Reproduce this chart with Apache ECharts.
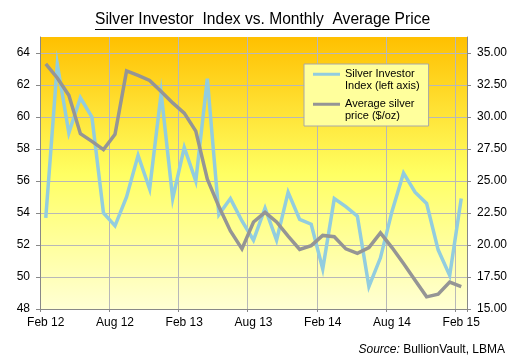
<!DOCTYPE html>
<html><head><meta charset="utf-8">
<script src="https://cdn.jsdelivr.net/npm/echarts@6/dist/echarts.min.js"></script>
<style>html,body{margin:0;padding:0;background:#fff}#c{width:511px;height:359px}</style>
</head><body><div id="c"></div>
<script>
var months = ["Feb 12","Mar 12","Apr 12","May 12","Jun 12","Jul 12","Aug 12","Sep 12","Oct 12","Nov 12","Dec 12","Jan 13",
  "Feb 13","Mar 13","Apr 13","May 13","Jun 13","Jul 13","Aug 13","Sep 13","Oct 13","Nov 13","Dec 13","Jan 14",
  "Feb 14","Mar 14","Apr 14","May 14","Jun 14","Jul 14","Aug 14","Sep 14","Oct 14","Nov 14","Dec 14","Jan 15","Feb 15"];
var investorIndex = [53.7,63.3,59.0,61.2,60.0,54.0,53.2,55.0,57.6,55.5,61.5,54.9,
  58.1,56.0,62.4,53.9,54.9,53.5,52.3,54.3,52.3,55.3,53.6,53.3,
  50.5,54.9,54.4,53.8,49.4,51.2,54.1,56.5,55.3,54.6,51.7,50.1,54.9];
var silverPrice = [34.15,33.05,31.7,28.7,28.1,27.45,28.65,33.6,33.25,32.85,32.0,31.1,
  30.3,28.9,25.15,23.0,21.1,19.7,21.8,22.55,21.8,20.7,19.65,19.95,
  20.75,20.65,19.7,19.35,19.8,20.95,19.8,18.55,17.25,15.95,16.15,17.1,16.75];
var seriesNames = ["Silver Investor\nIndex (left axis)", "Average silver\nprice ($/oz)"];
var titleText = "Silver Investor  Index vs. Monthly  Average Price";

var FONT = "'Liberation Sans', Arial, sans-serif";
var chart = echarts.init(document.getElementById('c'), null, {renderer: 'canvas'});
var iconPath = 'path://M0,0 L28,0 L28,3 L0,3 Z M0,14.99 L0.01,14.99 L0.01,15 L0,15 Z';
chart.setOption({
  backgroundColor: '#ffffff',
  animation: false,
  textStyle: {fontFamily: FONT},
  title: [{
    text: titleText, left: 95, top: 12, padding: 0,
    textStyle: {fontSize: 15.6, fontWeight: 'normal', color: '#000', fontFamily: FONT}
  }, {
    text: '{i|Source:} BullionVault, LBMA', right: 6, top: 344, padding: 0,
    textStyle: {fontSize: 12, fontWeight: 'normal', color: '#000', fontFamily: FONT,
      rich: {i: {fontStyle: 'italic', fontSize: 12, color: '#000', fontFamily: FONT}}}
  }],
  graphic: [{
    type: 'line', shape: {x1: 95, y1: 29.5, x2: 430, y2: 29.5},
    style: {stroke: '#000', lineWidth: 1}, z: 10
  }],
  legend: {
    orient: 'vertical', left: 304, top: 64,
    padding: [4, 9, 4, 9], itemGap: 6, itemWidth: 27, itemHeight: 15,
    icon: iconPath,
    backgroundColor: '#FFFF9C', borderColor: '#A8A8A8', borderWidth: 1,
    textStyle: {fontSize: 11, color: '#000', fontFamily: FONT, lineHeight: 12},
    data: seriesNames
  },
  grid: {
    left: 40, right: 44, top: 37, bottom: 50, show: true, borderWidth: 0,
    backgroundColor: new echarts.graphic.LinearGradient(0, 0, 0, 1, [
      {offset: 0, color: '#FFC000'}, {offset: 0.5, color: '#FFFF62'}, {offset: 1, color: '#FFFFD4'}
    ])
  },
  xAxis: {
    type: 'category', data: months, boundaryGap: true,
    axisLine: {lineStyle: {color: '#888', width: 1}},
    axisTick: {show: true, interval: 5, length: 3, lineStyle: {color: '#888'}},
    axisLabel: {interval: 5, margin: 8, fontSize: 12, color: '#000', fontFamily: FONT},
    splitLine: {show: true, interval: 5, lineStyle: {color: '#B8B8B8', width: 1}}
  },
  yAxis: [{
    type: 'value', min: 48, max: 65, interval: 2, position: 'left',
    axisLine: {show: true, lineStyle: {color: '#888'}},
    axisTick: {show: true, length: 4, lineStyle: {color: '#888'}},
    axisLabel: {margin: 10, fontSize: 12, color: '#000', fontFamily: FONT, showMaxLabel: false},
    splitLine: {show: true, showMaxLine: false, lineStyle: {color: ['#B8B8B8','#B8B8B8','#B8B8B8','#B8B8B8','#B8B8B8','#B8B8B8','#B8B8B8','#B8B8B8','#B8B8B8','rgba(0,0,0,0)'], width: 1}}
  }, {
    type: 'value', min: 15, max: 36.25, interval: 2.5, position: 'right',
    axisLine: {show: true, lineStyle: {color: '#888'}},
    axisTick: {show: true, length: 4, lineStyle: {color: '#888'}},
    axisLabel: {margin: 10, fontSize: 12, color: '#000', fontFamily: FONT, showMaxLabel: false,
      formatter: function (v) { return v.toFixed(2); }},
    splitLine: {show: false}
  }],
  series: [{
    name: seriesNames[0], type: 'line', yAxisIndex: 0, data: investorIndex,
    symbol: 'none', smooth: false, color: '#92CDDF',
    lineStyle: {color: '#92CDDF', width: 3.5, join: 'miter'}
  }, {
    name: seriesNames[1], type: 'line', yAxisIndex: 1, data: silverPrice,
    symbol: 'none', smooth: false, color: '#959595',
    lineStyle: {color: '#959595', width: 3.5, join: 'miter'}
  }]
});
</script></body></html>
